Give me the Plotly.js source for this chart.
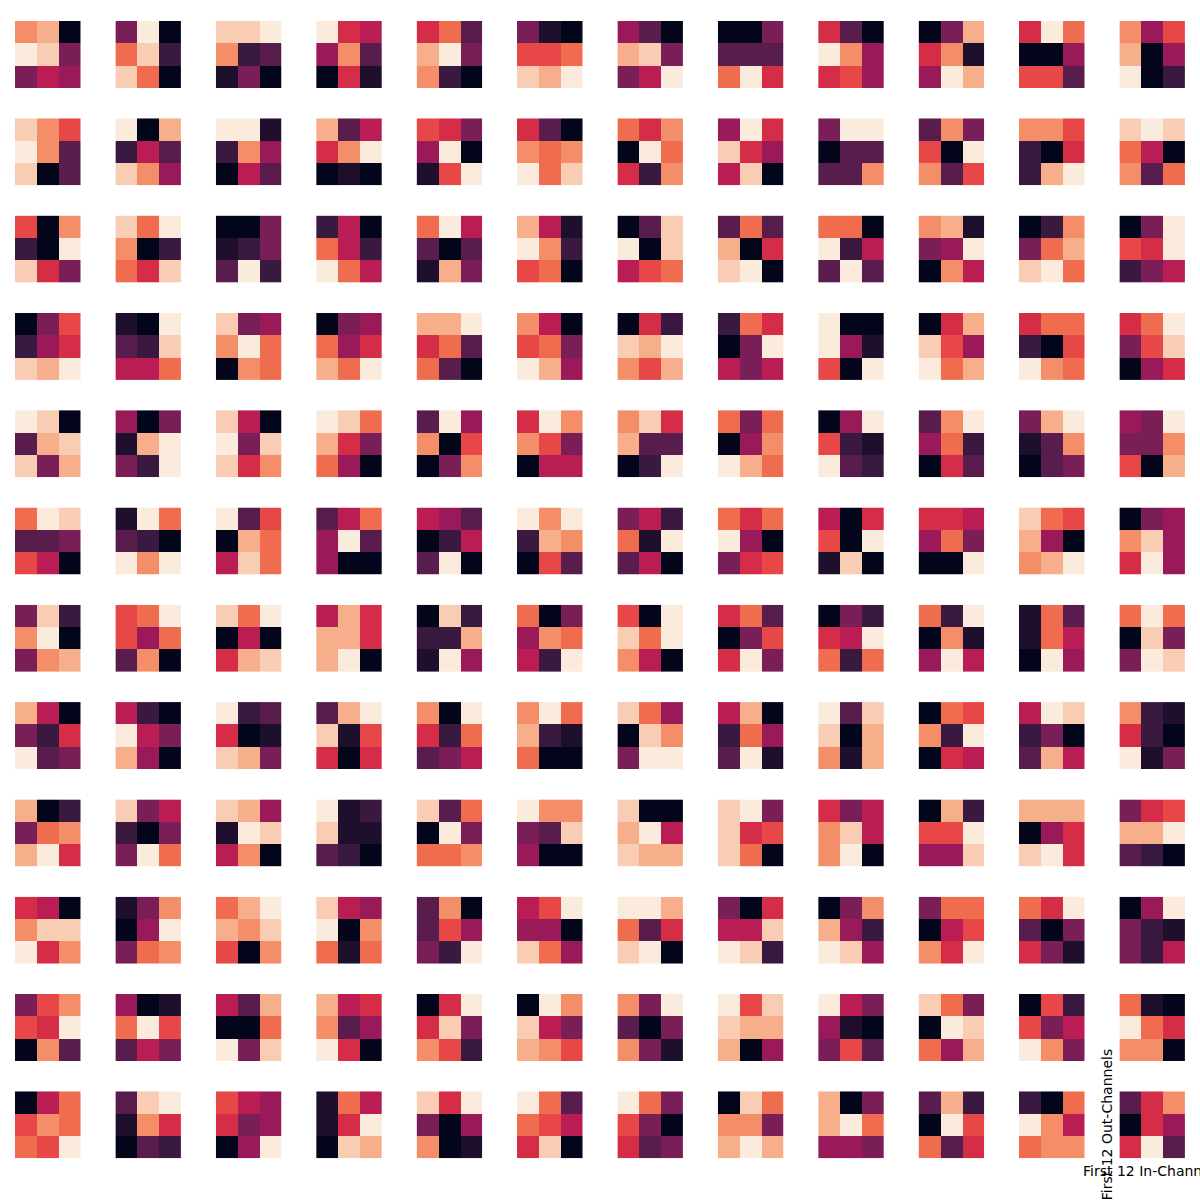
<!DOCTYPE html>
<html>
<head>
<meta charset="utf-8">
<script src="https://cdn.plot.ly/plotly-3.0.1.min.js"></script>
<style>html,body{margin:0;padding:0;background:#fff;}#chart{width:1200px;height:1200px;}</style>
</head>
<body>
<div id="chart"></div>
<script>
// Per-kernel colour level (0 = darkest, 13 = lightest).
// Each entry: one 3x3 kernel; each array: one row of the 12x12 grid (out-channel), kernels left to right (in-channel).
const outRow01 = [[[10,11,0],[13,12,4],[4,6,5]],[[4,13,0],[9,12,2],[12,9,0]],[[12,12,13],[10,2,3],[1,4,0]],[[13,7,6],[5,10,3],[0,7,1]],[[7,9,3],[11,13,4],[10,2,0]],[[4,1,0],[8,8,9],[12,11,13]],[[5,3,0],[11,12,4],[4,6,13]],[[0,0,4],[3,3,3],[9,13,7]],[[7,3,0],[13,10,5],[7,8,5]],[[0,4,11],[7,10,1],[5,13,11]],[[7,13,9],[0,0,5],[8,8,3]],[[10,5,8],[11,0,5],[13,0,2]]];
const outRow02 = [[[12,10,8],[13,10,3],[12,0,3]],[[13,0,11],[2,6,3],[12,10,5]],[[13,13,1],[2,10,5],[0,6,3]],[[11,3,6],[7,10,13],[0,1,0]],[[8,7,4],[5,13,0],[1,8,13]],[[7,3,0],[10,9,10],[13,9,12]],[[9,7,10],[0,13,9],[7,2,10]],[[5,13,7],[12,7,5],[6,12,0]],[[4,13,13],[0,3,3],[3,3,10]],[[3,10,4],[8,0,13],[10,3,8]],[[10,10,8],[2,0,7],[2,11,13]],[[12,13,12],[9,6,0],[10,3,9]]];
const outRow03 = [[[8,0,10],[2,0,13],[12,7,4]],[[12,9,13],[10,0,2],[9,7,12]],[[0,0,4],[1,2,4],[3,13,2]],[[2,6,0],[9,6,2],[13,9,6]],[[9,13,6],[3,0,3],[1,11,4]],[[11,6,1],[13,10,2],[8,9,0]],[[0,3,12],[13,0,12],[6,8,9]],[[3,9,3],[11,0,7],[12,13,0]],[[9,9,0],[13,2,6],[3,13,3]],[[10,11,1],[4,5,13],[0,10,6]],[[0,2,10],[4,9,11],[12,13,9]],[[0,4,13],[8,7,13],[2,4,6]]];
const outRow04 = [[[0,4,8],[2,5,7],[12,11,13]],[[1,0,13],[3,2,12],[6,6,9]],[[12,4,5],[10,13,9],[0,10,9]],[[0,4,5],[9,5,7],[11,9,13]],[[11,11,13],[7,9,3],[9,3,0]],[[10,6,0],[8,9,4],[13,11,5]],[[0,7,2],[12,11,13],[10,8,11]],[[2,9,7],[0,4,13],[6,4,6]],[[13,0,0],[13,5,1],[8,0,13]],[[0,7,11],[12,8,5],[13,9,11]],[[7,9,9],[2,0,8],[13,10,9]],[[7,9,13],[4,8,12],[0,5,7]]];
const outRow05 = [[[13,12,0],[3,11,12],[12,4,11]],[[5,0,4],[1,11,13],[4,2,13]],[[12,6,0],[13,4,12],[12,7,10]],[[13,12,9],[11,7,4],[9,5,0]],[[3,13,5],[10,0,8],[0,4,10]],[[7,13,10],[10,8,4],[0,6,6]],[[10,12,7],[11,3,3],[0,2,13]],[[9,4,9],[0,5,10],[13,11,9]],[[0,5,13],[8,2,1],[13,3,2]],[[3,10,13],[5,9,2],[0,7,3]],[[4,11,13],[1,3,10],[0,3,4]],[[5,4,13],[4,4,10],[8,0,11]]];
const outRow06 = [[[9,13,12],[3,3,4],[8,6,0]],[[1,13,9],[3,2,0],[13,10,13]],[[13,3,8],[0,11,9],[6,12,9]],[[3,6,9],[5,13,3],[5,0,0]],[[6,5,3],[0,2,6],[3,13,0]],[[13,10,13],[2,11,10],[0,8,3]],[[4,6,2],[9,1,13],[3,6,0]],[[9,7,9],[13,5,0],[4,7,8]],[[6,0,7],[8,0,13],[1,12,0]],[[7,7,6],[5,9,4],[0,0,13]],[[12,9,8],[11,5,0],[10,11,13]],[[0,4,5],[10,12,5],[7,13,5]]];
const outRow07 = [[[4,12,2],[10,13,0],[4,10,11]],[[8,9,13],[8,5,9],[3,10,0]],[[12,9,13],[0,6,0],[7,11,12]],[[6,11,7],[11,11,7],[11,13,0]],[[0,12,2],[2,2,11],[1,13,5]],[[9,0,4],[5,10,9],[6,2,13]],[[8,0,13],[12,9,13],[10,6,0]],[[7,9,3],[0,4,8],[7,13,4]],[[0,4,2],[7,6,13],[9,2,9]],[[9,2,13],[0,10,1],[5,13,6]],[[1,9,3],[1,9,6],[0,13,5]],[[9,13,9],[0,12,4],[4,13,12]]];
const outRow08 = [[[11,6,0],[4,2,7],[13,3,4]],[[6,2,0],[13,6,4],[11,5,0]],[[13,2,3],[7,0,1],[12,11,4]],[[3,11,13],[12,1,8],[7,0,7]],[[10,0,13],[7,2,9],[3,4,6]],[[10,13,9],[11,2,1],[9,0,0]],[[12,9,5],[0,12,10],[4,13,13]],[[6,11,0],[2,9,5],[3,13,1]],[[13,3,12],[12,0,11],[10,1,11]],[[0,9,8],[10,2,13],[0,7,6]],[[6,13,12],[2,4,0],[3,11,6]],[[10,2,1],[7,2,0],[13,1,4]]];
const outRow09 = [[[11,0,2],[4,9,10],[11,13,7]],[[12,4,6],[2,0,4],[4,13,9]],[[12,11,5],[1,13,12],[6,10,0]],[[13,1,2],[12,1,1],[3,2,0]],[[12,3,9],[0,13,4],[9,9,10]],[[13,10,10],[4,3,12],[5,0,0]],[[12,0,0],[11,13,6],[12,11,11]],[[12,13,4],[12,7,8],[12,9,0]],[[7,4,6],[10,12,6],[10,13,0]],[[0,11,2],[8,8,13],[5,5,12]],[[11,11,11],[0,5,7],[12,13,7]],[[4,7,8],[11,11,13],[3,2,0]]];
const outRow10 = [[[7,6,0],[10,12,12],[13,7,10]],[[1,4,10],[0,5,13],[4,9,10]],[[9,11,13],[11,10,12],[8,0,10]],[[12,6,5],[13,0,10],[9,1,9]],[[3,10,0],[3,8,5],[4,2,13]],[[6,8,13],[5,5,0],[12,9,5]],[[13,13,11],[9,3,7],[12,13,0]],[[4,0,7],[6,6,12],[13,12,2]],[[0,4,10],[11,5,2],[13,12,5]],[[4,9,9],[0,6,8],[10,7,13]],[[9,7,13],[3,0,4],[7,4,1]],[[0,5,13],[4,2,1],[4,2,6]]];
const outRow11 = [[[4,8,10],[8,7,13],[0,10,3]],[[5,0,1],[9,13,8],[3,6,4]],[[6,3,11],[0,0,9],[13,4,12]],[[11,6,7],[10,3,5],[13,7,0]],[[0,7,13],[7,12,4],[10,8,2]],[[0,13,10],[12,6,4],[11,10,8]],[[10,4,13],[3,0,4],[10,4,1]],[[13,8,12],[12,11,11],[11,0,5]],[[13,6,4],[5,1,0],[4,8,3]],[[12,9,4],[0,13,12],[9,5,11]],[[0,8,2],[8,4,6],[13,10,4]],[[9,1,0],[13,9,7],[10,10,0]]];
const outRow12 = [[[0,6,9],[8,10,9],[9,8,13]],[[3,12,13],[1,10,7],[0,3,2]],[[8,6,5],[7,4,5],[0,5,13]],[[1,9,6],[1,7,13],[0,12,11]],[[12,7,13],[4,0,5],[10,0,1]],[[13,9,3],[9,8,6],[7,12,0]],[[13,9,4],[8,4,0],[7,3,4]],[[0,12,9],[10,10,4],[11,13,11]],[[11,0,4],[11,13,9],[5,5,4]],[[3,11,2],[0,13,8],[9,3,7]],[[2,0,9],[13,10,6],[9,10,10]],[[3,7,10],[0,7,5],[7,13,3]]];

const xLabelText = "First 12 In-Channels";
const yLabelText = "First 12 Out-Channels";

const grid = [outRow01,outRow02,outRow03,outRow04,outRow05,outRow06,outRow07,outRow08,outRow09,outRow10,outRow11,outRow12];

// seaborn "rocket" colormap
const rocket = [[0,'#03051a'],[0.143,'#35193e'],[0.286,'#701f57'],[0.429,'#ad1759'],[0.571,'#e13342'],[0.714,'#f37651'],[0.857,'#f6b48f'],[1,'#faebdd']];

const W = 1200, Hh = 1200;
const X0 = 15, XP = 100.4, CW = 65.5;
const Y0 = 21, YP = 97.3, CH = 67;

const traces = [];
const layout = {
  width: W, height: Hh,
  margin: {l:0, r:0, t:0, b:0},
  paper_bgcolor: '#ffffff', plot_bgcolor: '#ffffff',
  showlegend: false,
  annotations: []
};

let n = 0;
for (let r = 0; r < grid.length; r++) {
  for (let c = 0; c < grid[r].length; c++) {
    n++;
    const sx = n === 1 ? '' : String(n);
    const left = X0 + c * XP, top = Y0 + r * YP;
    layout['xaxis' + sx] = {
      domain: [left / W, (left + CW) / W], range: [-0.5, 2.5],
      visible: false, fixedrange: true, anchor: 'y' + sx
    };
    layout['yaxis' + sx] = {
      domain: [1 - (top + CH) / Hh, 1 - top / Hh], range: [2.5, -0.5],
      visible: false, fixedrange: true, anchor: 'x' + sx
    };
    traces.push({
      type: 'heatmap', z: grid[r][c], x: [0,1,2], y: [0,1,2],
      xaxis: 'x' + sx, yaxis: 'y' + sx,
      colorscale: rocket, zmin: 0, zmax: 13, showscale: false,
      hoverinfo: 'skip'
    });
  }
}

const lastLeft = X0 + 11 * XP, lastTop = Y0 + 11 * YP;
layout.annotations.push({
  text: xLabelText, xref: 'paper', yref: 'paper',
  x: (lastLeft + CW / 2) / W, y: 1 - (lastTop + CH + 3) / Hh,
  xanchor: 'center', yanchor: 'top', showarrow: false,
  font: {family: 'DejaVu Sans', size: 14, color: '#000000'}
});
layout.annotations.push({
  text: yLabelText, xref: 'paper', yref: 'paper', textangle: -90,
  x: (lastLeft - 3) / W, y: 1 - (lastTop + CH / 2) / Hh,
  xanchor: 'right', yanchor: 'middle', showarrow: false,
  font: {family: 'DejaVu Sans', size: 14, color: '#000000'}
});

Plotly.newPlot('chart', traces, layout, {displayModeBar: false, staticPlot: true});
</script>
</body>
</html>
